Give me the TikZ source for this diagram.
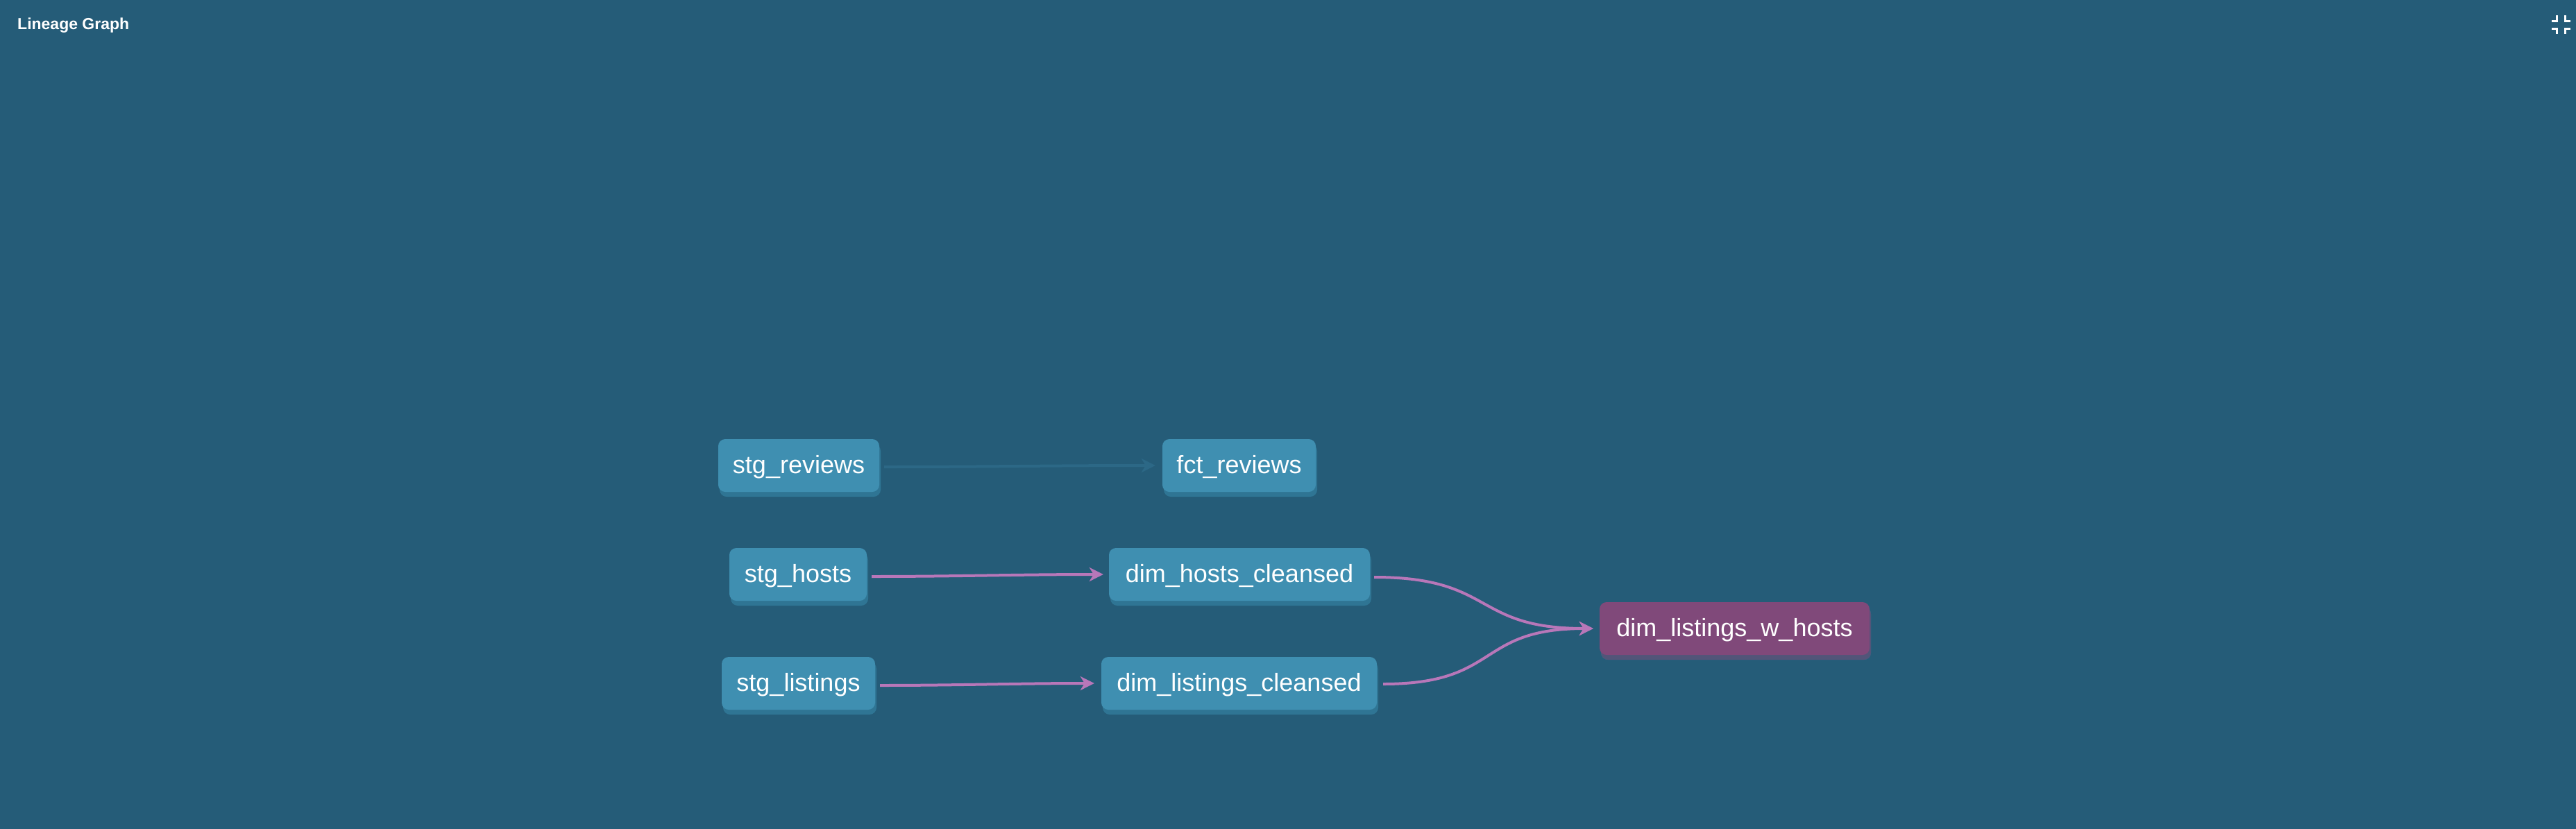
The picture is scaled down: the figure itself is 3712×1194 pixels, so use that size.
\documentclass[tikz,border=0pt]{standalone}
\usepackage{fontspec}
\setmainfont{Liberation Sans}
\usetikzlibrary{arrows.meta,shadows}
\definecolor{bgcol}{RGB}{37,92,120}
\definecolor{nodefill}{RGB}{63,143,177}
\definecolor{nodeshadow}{RGB}{47,117,148}
\definecolor{purplefill}{RGB}{128,73,122}
\definecolor{purpleshadow}{RGB}{82,85,121}
\definecolor{pinkedge}{RGB}{184,119,185}
\definecolor{darkedge}{RGB}{44,104,134}
\begin{document}
\begin{tikzpicture}[x=1pt,y=-1pt,
  model/.style={rounded corners=10pt, fill=nodefill, text=white,
    font=\fontsize{36}{40}\selectfont, minimum height=76pt, inner sep=0pt,
    text height=26pt, text depth=4pt,
    drop shadow={shadow xshift=2pt, shadow yshift=-7pt, fill=nodeshadow, opacity=1}},
  target/.style={model, fill=purplefill,
    drop shadow={shadow xshift=2pt, shadow yshift=-7pt, fill=purpleshadow, opacity=1}},
  pinkline/.style={draw=pinkedge, line width=4pt, -{Stealth[length=20pt,width=20pt,inset=6pt]}},
  darkline/.style={draw=darkedge, line width=4pt, -{Stealth[length=20pt,width=20pt,inset=6pt]}},
  icon/.style={draw=white, line width=3pt}
]
\fill[bgcol, overlay] (-5,-5) rectangle (3717,1199);
\useasboundingbox (0,0) rectangle (3712,1194);

\node[anchor=base west, inner sep=0pt, text=white, font=\bfseries\fontsize{23}{26}\selectfont] (title) at (25,42) {Lineage Graph};

\draw[icon] (3677,30) -- (3684,30) -- (3684,22);
\draw[icon] (3704,30) -- (3696,30) -- (3696,22);
\draw[icon] (3677,41) -- (3684,41) -- (3684,49);
\draw[icon] (3704,41) -- (3696,41) -- (3696,49);

\node[model, minimum width=232pt] (sr) at (1151,671) {stg\_reviews};
\node[model, minimum width=221pt] (fr) at (1785.5,671) {fct\_reviews};
\node[model, minimum width=198pt] (sh) at (1150,828) {stg\_hosts};
\node[model, minimum width=376pt] (dhc) at (1786,828) {dim\_hosts\_cleansed};
\node[model, minimum width=221pt] (sl) at (1150.5,985) {stg\_listings};
\node[model, minimum width=397pt] (dlc) at (1785.5,985) {dim\_listings\_cleansed};
\node[target, minimum width=389pt] (dlwh) at (2499.5,906) {dim\_listings\_w\_hosts};

\draw[darkline] ([xshift=7pt,yshift=-2pt]sr.east) .. controls +(150,0) and +(-150,0) .. ([xshift=-10pt]fr.west);
\draw[pinkline] ([xshift=7pt,yshift=-3pt]sh.east) .. controls +(120,0) and +(-120,0) .. ([xshift=-8pt]dhc.west);
\draw[pinkline] ([xshift=7pt,yshift=-3pt]sl.east) .. controls +(110,0) and +(-110,0) .. ([xshift=-10pt]dlc.west);
\draw[pinkline] ([xshift=6pt,yshift=-4pt]dhc.east) .. controls +(175,0) and +(-175,0) .. ([xshift=-9pt]dlwh.west);
\draw[pinkline] ([xshift=9pt,yshift=-1pt]dlc.east) .. controls +(170,0) and +(-170,0) .. ([xshift=-9pt]dlwh.west);
\end{tikzpicture}
\end{document}
